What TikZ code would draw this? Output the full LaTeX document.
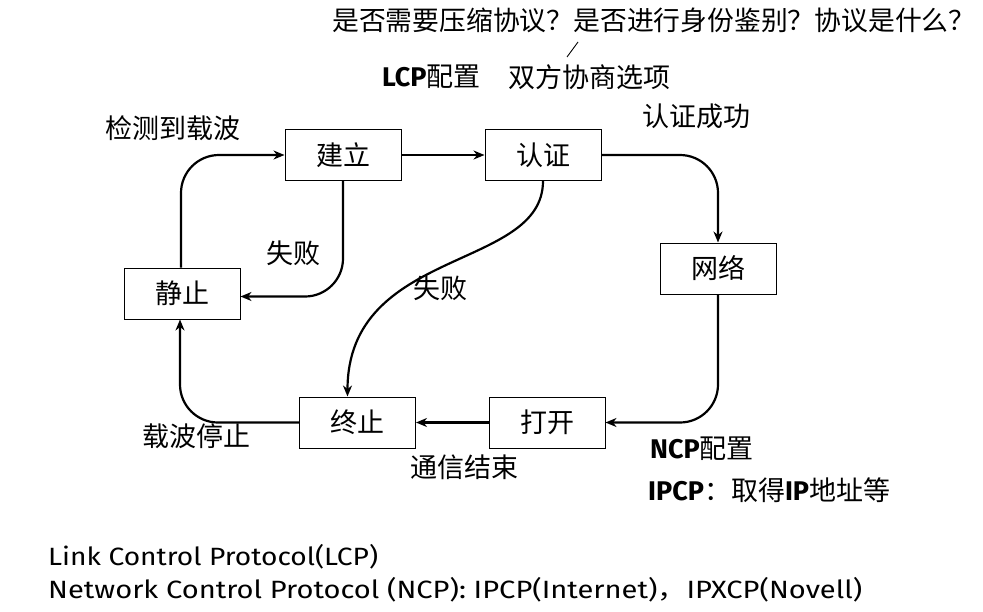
\documentclass[tikz,border=0pt]{standalone}
\usepackage{fontspec}
\usepackage{graphicx}
\newfontfamily\cjk{Noto Sans CJK SC}
\newfontfamily\lat{Fira Sans}
\usetikzlibrary{arrows.meta}
\begin{document}
\begin{tikzpicture}[x=1pt,y=-1pt,
  box/.style={draw, line width=1pt, fill=white, minimum width=116pt, minimum height=51pt, inner sep=0pt, font=\cjk\fontsize{27}{27}\selectfont},
  lbl/.style={inner sep=0pt, anchor=west, font=\cjk\fontsize{27}{27}\selectfont},
  eng/.style={inner sep=0pt, anchor=west, font=\lat\fontsize{25}{25}\selectfont},
  conn/.style={line width=2.2pt, -{Stealth[length=11pt,width=9pt]}, rounded corners=38pt}]
\useasboundingbox (0,0) rectangle (983,611);
% boxes
\node[box] (jianli) at (343,155) {建立};
\node[box] (renzheng) at (543,155) {认证};
\node[box] (wangluo) at (718,268.5) {网络};
\node[box] (jingzhi) at (182,293.5) {静止};
\node[box] (zhongzhi) at (357.5,422.5) {终止};
\node[box] (dakai) at (547,422.5) {打开};
% connectors
\draw[conn] ([xshift=-1pt]jingzhi.north) |- (jianli.west);
\draw[conn] (jianli.east) -- (renzheng.west);
\draw[conn] (renzheng.east) -| (wangluo.north);
\draw[conn] (wangluo.south) |- (dakai.east);
\draw[conn] (dakai.west) -- (zhongzhi.east);
\draw[conn] (zhongzhi.west) -| ([xshift=-2pt]jingzhi.south);
\draw[conn] (jianli.south) |- ([yshift=-3pt]jingzhi.east);
\draw[conn, rounded corners=0pt] (renzheng.south) .. controls +(0,90) and +(0,-150) .. ([xshift=-10pt]zhongzhi.north);
% top annotations
\node[lbl, font=\cjk\fontsize{26.8}{26.8}\selectfont] (q) at (332,20) {是否需要压缩协议？是否进行身份鉴别？协议是什么？};
\coordinate (s1) at (578,42);
\coordinate (s2) at (567,57);
\draw[line width=0.9pt] (s1) -- (s2);
\node[lbl] (lcp) at (382,77) {{\lat\bfseries LCP}配置};
\node[lbl] (xs) at (508,77) {双方协商选项};
% labels
\node[lbl] (l1) at (105,128) {检测到载波};
\node[lbl] (l2) at (266,253) {失败};
\node[lbl] (l3) at (413,288) {失败};
\node[lbl] (l4) at (642,116) {认证成功};
\node[lbl] (l5) at (650,449) {{\lat\bfseries NCP}配置};
\node[lbl] (l6) at (648,490) {{\lat\bfseries IPCP}：取得{\lat\bfseries IP}地址等};
\node[lbl] (l7) at (142,436) {载波停止};
\node[lbl] (l8) at (410,467) {通信结束};
% bottom
\node[eng] (b1) at (48,557) {\resizebox{330pt}{\height}{Link Control Protocol(LCP)}};
\node[eng] (b2) at (48,590) {\resizebox{814pt}{\height}{Network Control Protocol (NCP): IPCP(Internet){\cjk ，}IPXCP(Novell)}};
\end{tikzpicture}
\end{document}
